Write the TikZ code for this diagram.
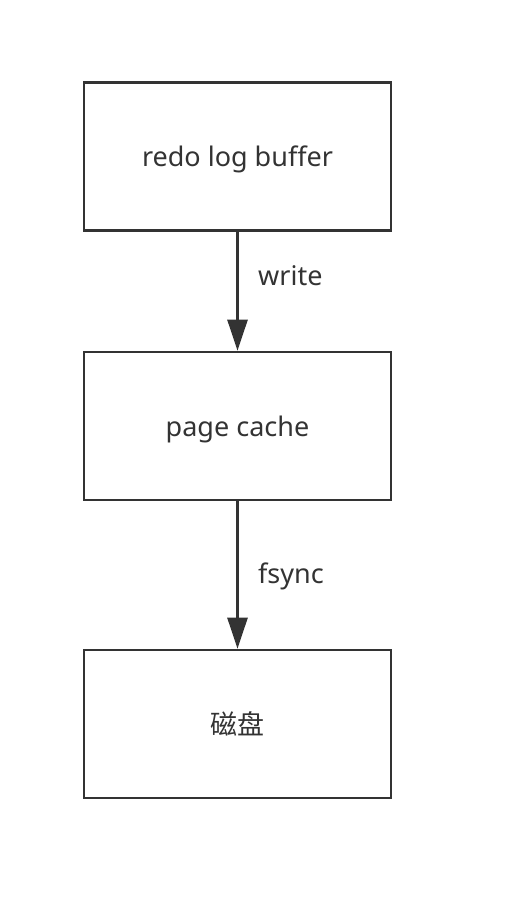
\documentclass[tikz,border=0pt]{standalone}
\usepackage{fontspec}
\setmainfont{Noto Sans}
\newfontfamily\cjk{Noto Sans CJK SC}
\usetikzlibrary{arrows.meta}
\definecolor{ink}{HTML}{333333}
\tikzset{
  box/.style={draw=ink, line width=2.6pt, minimum width=307pt, minimum height=148pt, inner sep=0pt, text=ink, font=\fontsize{27}{32}\selectfont, text height=21pt, text depth=0pt},
  conn/.style={draw=ink, line width=2.6pt, -{Triangle[length=31pt,width=20pt]}},
  lbl/.style={text=ink, font=\fontsize{27}{32}\selectfont, anchor=west, inner sep=0pt}
}
\begin{document}
\begin{tikzpicture}[x=1pt,y=-1pt]
\useasboundingbox (0,0) rectangle (516,904);
\node[box] (a) at (237.5,156.5) {redo log buffer};
\node[box] (b) at (237.5,426) {page cache};
\node[box] (c) at (237.5,724) {\cjk 磁盘};
\draw[conn] (a) -- (b);
\draw[conn] (b) -- (c);
\node[lbl] (w) at (258,276) {write};
\node[lbl] (f) at (258,576) {fsync};
\end{tikzpicture}
\end{document}
